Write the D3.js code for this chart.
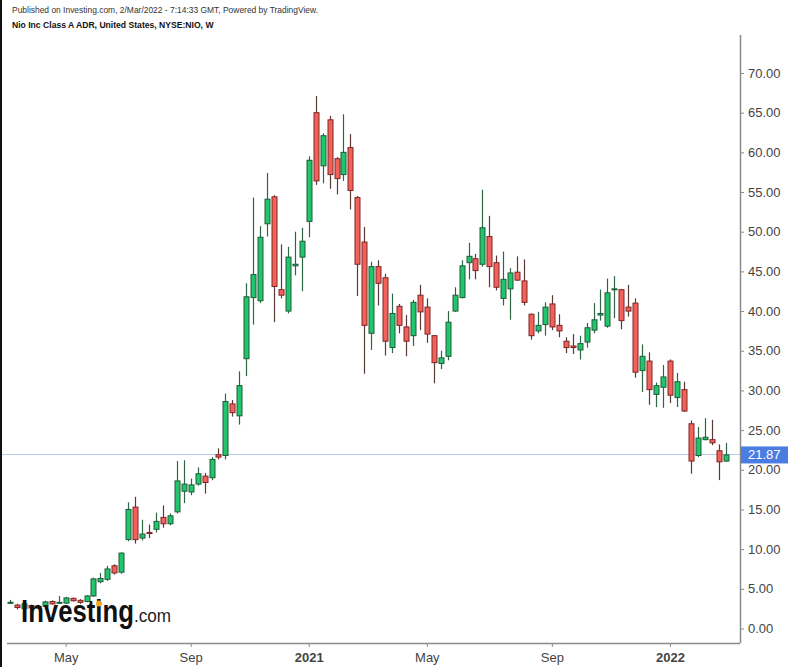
<!DOCTYPE html>
<html><head><meta charset="utf-8">
<script src="https://cdn.jsdelivr.net/npm/d3@7"></script>
<style>body{margin:0;background:#fff}svg{display:block}</style>
</head><body><svg id="c" width="792" height="667"></svg>
<script>
const firstWeek = "2020-03-09", lastWeek = "2022-02-28";
const open = [3.25,2.95,2.5,2.9,2.6,2.8,3.4,3.25,3.2,3.8,
 3.55,3.4,4.1,5.9,6.2,7.9,7.1,11.2,15.3,11.4,
 12.1,12.5,14.0,13.2,14.7,17.3,17.2,18.2,19.2,19.0,
 21.9,21.8,28.3,26.8,34.0,41.7,41.3,51.0,54.4,42.7,
 40.0,45.7,46.8,51.3,65.0,58.3,64.1,59.2,57.2,60.6,
 54.3,48.7,37.2,45.6,44.2,35.4,40.6,38.0,36.9,42.0,
 40.5,36.9,33.4,34.3,40.0,41.7,46.1,46.6,45.9,49.4,
 46.1,41.6,42.8,44.9,43.8,39.6,37.5,38.3,40.9,38.2,
 36.2,35.6,35.1,36.1,37.6,39.5,38.1,42.7,42.7,40.5,
 41.0,32.5,33.7,29.5,30.4,33.7,29.1,30.1,25.8,21.8,
 23.8,23.8,22.4,21.1];
const high = [3.6,3.1,3.2,3.0,3.0,3.5,3.55,4.1,4.0,3.9,
 3.7,4.2,6.4,7.0,7.9,8.1,9.6,15.9,16.6,13.7,
 13.1,14.6,15.5,14.5,21.1,21.2,18.9,20.3,19.6,21.6,
 22.7,29.6,28.8,32.4,43.5,54.3,50.7,57.4,54.6,48.4,
 48.1,50.0,50.5,59.5,67.1,62.4,64.6,59.4,64.8,62.3,
 54.5,50.6,46.2,46.4,44.7,42.2,40.9,39.5,41.4,43.3,
 41.6,36.9,35.0,40.0,43.0,46.4,48.6,47.2,55.3,52.0,
 47.0,47.5,45.4,46.9,46.5,39.7,39.9,41.1,42.0,39.6,
 36.7,37.1,36.9,38.5,41.0,42.7,44.1,44.4,42.8,43.3,
 41.6,35.8,34.8,31.0,33.2,33.9,32.2,31.1,26.2,25.4,
 26.5,26.3,23.2,23.4];
const low = [3.1,2.4,2.3,2.4,2.5,2.7,3.0,3.1,3.1,3.4,
 3.1,3.3,4.0,5.7,6.0,6.8,6.9,11.0,10.7,11.1,
 11.4,12.1,12.7,13.0,14.5,15.8,16.8,18.0,17.0,18.7,
 21.3,21.3,26.7,25.7,31.8,38.3,41.0,49.4,38.6,41.6,
 39.7,44.5,42.5,49.3,55.9,56.1,55.4,54.7,56.4,52.8,
 41.9,32.1,35.1,40.7,34.4,34.7,37.2,34.3,35.6,37.6,
 36.0,30.9,32.7,33.8,39.9,41.6,44.0,44.0,45.6,43.0,
 42.6,40.7,38.9,43.8,40.7,36.4,37.2,36.9,37.6,36.7,
 34.7,34.6,33.9,35.4,37.2,38.8,37.9,39.1,37.7,39.3,
 31.6,29.8,28.2,27.9,27.8,28.4,27.9,27.3,19.5,21.6,
 23.7,23.1,18.7,21.0];
const close = [3.3,2.65,3.1,2.6,2.8,3.35,3.1,3.3,3.85,3.5,
 3.3,4.1,6.25,6.3,7.5,7.0,9.5,15.0,11.2,11.9,
 12.0,13.5,13.2,14.2,18.6,18.2,18.1,19.5,18.4,21.3,
 21.6,28.6,27.2,30.6,41.8,44.6,49.3,54.1,43.1,42.0,
 46.8,45.9,48.8,59.0,56.4,62.1,57.2,56.7,60.0,55.2,
 45.9,38.2,45.6,43.5,36.2,39.7,38.2,36.2,41.1,39.9,
 37.1,33.5,34.1,38.6,42.0,45.7,46.9,45.1,50.5,45.6,
 43.0,44.0,44.8,43.9,41.1,36.9,38.2,40.5,38.0,37.5,
 35.4,35.4,35.9,37.9,38.9,39.7,42.3,42.8,38.8,40.0,
 32.3,34.3,30.1,30.6,31.7,29.4,31.1,27.4,21.1,24.0,
 24.1,23.4,21.0,21.87];
const priceTicks = [0,5,10,15,20,25,30,35,40,45,50,55,60,65,70];
const timeTicks = ["2020-05-04","2020-09-07","2021-01-04","2021-05-03","2021-09-06","2022-01-03"];
const timeTickLabels = ["May","Sep","2021","May","Sep","2022"];
const boldTicks = ["2021","2022"];
const lastPrice = 21.87;
const headerLine1 = "Published on Investing.com, 2/Mar/2022 - 7:14:33 GMT, Powered by TradingView.";
const headerLine2 = "Nio Inc Class A ADR, United States, NYSE:NIO, W";

const parse = d3.utcParse("%Y-%m-%d");
const weeks = d3.utcMonday.range(parse(firstWeek), d3.utcDay.offset(parse(lastWeek), 1));
const data = weeks.map((d, i) => ({date: d, o: open[i], h: high[i], l: low[i], c: close[i]}));

const svg = d3.select("#c");
const font = "Liberation Sans, Arial, Helvetica, sans-serif";
const x = d3.scaleUtc().domain([parse(firstWeek), parse(lastWeek)]).range([10.1, 725.5]);
const y = d3.scaleLinear().domain([0, 70]).range([628.5, 73]);
const axisX = 740, axisY = 643;

svg.append("rect").attr("width", 792).attr("height", 667).attr("fill", "#fff");
// left frame
svg.append("rect").attr("x", 0).attr("y", 0).attr("width", 2).attr("height", 667).attr("fill", "#111");

// header
svg.append("text").attr("x", 12).attr("y", 12.5).attr("font-family", font).attr("font-size", 8.6)
  .attr("textLength", 306).attr("lengthAdjust", "spacingAndGlyphs")
  .attr("fill", "#333").text(headerLine1);
svg.append("text").attr("x", 12).attr("y", 27.5).attr("font-family", font).attr("font-size", 8.6)
  .attr("font-weight", "bold").attr("fill", "#111").text(headerLine2);

// last price line
svg.append("line").attr("x1", 2).attr("x2", axisX).attr("y1", Math.round(y(lastPrice)) - 0.5)
  .attr("y2", Math.round(y(lastPrice)) - 0.5).attr("stroke", "#b7c9ea").attr("stroke-width", 1);

// candles
const up = d => d.c >= d.o;
const g = svg.append("g");
const cg = g.selectAll("g.candle").data(data).join("g").attr("class", "candle");
cg.append("line")
  .attr("x1", d => Math.round(x(d.date)) + 0.5).attr("x2", d => Math.round(x(d.date)) + 0.5)
  .attr("y1", d => y(d.h)).attr("y2", d => y(d.l))
  .attr("stroke", d => up(d) ? "#2f6444" : "#5a3a36").attr("stroke-width", 1.2);
cg.append("rect")
  .attr("x", d => Math.round(x(d.date)) - 2)
  .attr("y", d => y(Math.max(d.o, d.c)))
  .attr("width", 5)
  .attr("height", d => Math.max(1, y(Math.min(d.o, d.c)) - y(Math.max(d.o, d.c))))
  .attr("fill", d => up(d) ? "#22c46c" : "#f2625a")
  .attr("stroke", d => up(d) ? "#1e5d38" : "#7e2626").attr("stroke-width", 1);

// y axis
const yAxis = d3.axisRight(y).tickValues(priceTicks).tickSize(4).tickPadding(4).tickFormat(d3.format(".2f"));
const ya = svg.append("g").attr("transform", `translate(${axisX},0)`).call(yAxis);
ya.select(".domain").attr("d", `M0.5,35V${axisY}`).attr("stroke", "#8a8a8a").attr("stroke-width", 1.5);
ya.selectAll(".tick line").attr("stroke", "#8a8a8a");
ya.selectAll(".tick text").attr("font-family", font).attr("font-size", 13).attr("fill", "#444");

// x axis
const xAxis = d3.axisBottom(x).tickValues(timeTicks.map(parse)).tickSize(4).tickPadding(6)
  .tickFormat((d, i) => timeTickLabels[i]);
const xa = svg.append("g").attr("transform", `translate(0,${axisY})`).call(xAxis);
xa.select(".domain").attr("d", `M7,0.5H${axisX}`).attr("stroke", "#8a8a8a").attr("stroke-width", 1.5);
xa.selectAll(".tick line").attr("stroke", "#8a8a8a");
xa.selectAll(".tick text").attr("font-family", font).attr("font-size", 13).attr("fill", "#444")
  .attr("font-weight", (d, i) => boldTicks.includes(timeTickLabels[i]) ? "bold" : "normal");

// last price label
const ly = y(lastPrice);
svg.append("rect").attr("x", axisX + 1).attr("y", ly - 8.5).attr("width", 47).attr("height", 17).attr("fill", "#4a7ce2");
svg.append("text").attr("x", axisX + 8).attr("y", ly + 4.5).attr("font-family", font).attr("font-size", 13)
  .attr("fill", "#fff").text(lastPrice.toFixed(2));

// logo
const logo = svg.append("g");
logo.append("text").attr("transform", "translate(21,622) scale(0.83,1)")
  .attr("font-family", "Liberation Sans, Arial, sans-serif")
  .attr("font-size", 31).attr("font-weight", "bold").attr("fill", "#111").text("Investing");
logo.append("text").attr("transform", "translate(134,622) scale(0.9,1)")
  .attr("font-family", "Liberation Sans, Arial, sans-serif")
  .attr("font-size", 19).attr("fill", "#222").text(".com");
logo.append("circle").attr("cx", 99).attr("cy", 603.5).attr("r", 3).attr("fill", "#f5a623");
</script></body></html>
